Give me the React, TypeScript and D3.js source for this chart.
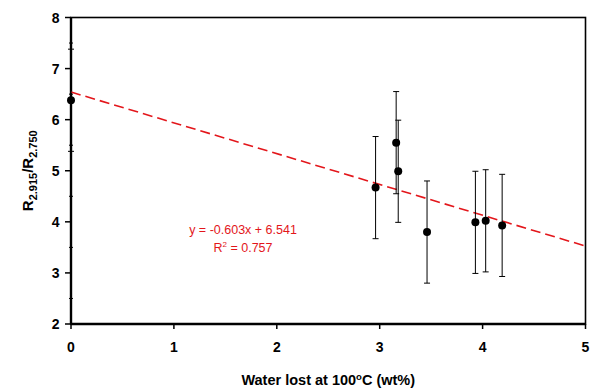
import { useEffect, useRef } from "react"
import * as d3 from "d3"

// water lost (wt%) vs R2.915/R2.750
const waterLost = [0, 2.96, 3.16, 3.18, 3.46, 3.93, 4.03, 4.19]
const ratio = [6.38, 4.67, 5.55, 4.99, 3.8, 3.99, 4.02, 3.93]
const errors = [1.0, 1.0, 1.0, 1.0, 1.0, 1.0, 1.0, 1.0]

const xTicks = [0, 1, 2, 3, 4, 5]
const yTicks = [2, 3, 4, 5, 6, 7, 8]
const yMinorTicks = [2.5, 3.5, 4.5, 5.5, 6.5, 7.5]

const slope = -0.603
const intercept = 6.541
const equationText = "y = -0.603x + 6.541"
const rSquared = "0.757"

const App = () => {
  const svgRef = useRef<SVGSVGElement>(null)

  useEffect(() => {
    const svg = d3.select(svgRef.current)
    svg.selectAll("*").remove()

    const width = 592
    const height = 389
    const left = 71
    const right = 585.5
    const top = 17.5
    const bottom = 324

    svg.attr("width", width).attr("height", height)

    const x = d3.scaleLinear().domain([0, 5]).range([left, right])
    const y = d3.scaleLinear().domain([2, 8]).range([bottom, top])

    const font = "Arial, 'Liberation Sans', sans-serif"
    const g = svg.append("g")

    // frame
    g.append("rect")
      .attr("x", left)
      .attr("y", top)
      .attr("width", right - left)
      .attr("height", bottom - top)
      .attr("fill", "none")
      .attr("stroke", "#000")
      .attr("stroke-width", 1.6)
    g.append("line")
      .attr("x1", left).attr("x2", left)
      .attr("y1", top).attr("y2", bottom)
      .attr("stroke", "#000").attr("stroke-width", 2.4)
    g.append("line")
      .attr("x1", left).attr("x2", right)
      .attr("y1", bottom).attr("y2", bottom)
      .attr("stroke", "#000").attr("stroke-width", 2.4)

    // y ticks
    yTicks.forEach((t) => {
      g.append("line")
        .attr("x1", left - 6)
        .attr("x2", left)
        .attr("y1", y(t))
        .attr("y2", y(t))
        .attr("stroke", "#000")
        .attr("stroke-width", 1.5)
      g.append("text")
        .attr("x", left - 11.5)
        .attr("y", y(t))
        .attr("dy", "0.36em")
        .attr("text-anchor", "end")
        .style("font-family", font)
        .style("font-size", "14px")
        .style("font-weight", "bold")
        .text(t)
    })
    yMinorTicks.forEach((t) => {
      g.append("line")
        .attr("x1", left - 2)
        .attr("x2", left + 2)
        .attr("y1", y(t))
        .attr("y2", y(t))
        .attr("stroke", "#000")
        .attr("stroke-width", 1)
    })

    // x ticks
    xTicks.forEach((t) => {
      g.append("line")
        .attr("x1", x(t))
        .attr("x2", x(t))
        .attr("y1", bottom)
        .attr("y2", bottom + 5)
        .attr("stroke", "#000")
        .attr("stroke-width", 1.5)
      g.append("text")
        .attr("x", x(t))
        .attr("y", bottom + 27.5)
        .attr("text-anchor", "middle")
        .style("font-family", font)
        .style("font-size", "14px")
        .style("font-weight", "bold")
        .text(t)
    })

    // trend line
    g.append("line")
      .attr("x1", x(0))
      .attr("y1", y(intercept))
      .attr("x2", x(5))
      .attr("y2", y(slope * 5 + intercept))
      .attr("stroke", "#e3161b")
      .attr("stroke-width", 1.6)
      .attr("stroke-dasharray", "10,5")

    // error bars
    const pts = waterLost.map((w, i) => ({ x: w, y: ratio[i], e: errors[i] }))
    const eb = g.selectAll(".err").data(pts).enter().append("g")
    eb.append("line")
      .attr("x1", (d) => x(d.x))
      .attr("x2", (d) => x(d.x))
      .attr("y1", (d) => y(d.y + d.e))
      .attr("y2", (d) => y(d.y - d.e))
      .attr("stroke", "#000")
      .attr("stroke-width", 1)
    ;[1, -1].forEach((s) => {
      eb.append("line")
        .attr("x1", (d) => x(d.x) - 3)
        .attr("x2", (d) => x(d.x) + 3)
        .attr("y1", (d) => y(d.y + s * d.e))
        .attr("y2", (d) => y(d.y + s * d.e))
        .attr("stroke", "#000")
        .attr("stroke-width", 1)
    })

    // points
    g.selectAll(".pt")
      .data(pts)
      .enter()
      .append("circle")
      .attr("cx", (d) => x(d.x))
      .attr("cy", (d) => y(d.y))
      .attr("r", 4)
      .attr("fill", "#000")

    // equation
    g.append("text")
      .attr("x", 243)
      .attr("y", 234)
      .attr("text-anchor", "middle")
      .style("font-family", font)
      .style("font-size", "12.5px")
      .style("fill", "#e3161b")
      .text(equationText)
    const r2 = g.append("text")
      .attr("x", 243)
      .attr("y", 252)
      .attr("text-anchor", "middle")
      .style("font-family", font)
      .style("font-size", "12.5px")
      .style("fill", "#e3161b")
    r2.append("tspan").text("R")
    r2.append("tspan").attr("dy", -5).style("font-size", "8px").text("2")
    r2.append("tspan").attr("dy", 5).text(" = " + rSquared)

    // x label
    const xl = g.append("text")
      .attr("x", (left + right) / 2)
      .attr("y", 385)
      .attr("text-anchor", "middle")
      .style("font-family", font)
      .style("font-size", "14.5px")
      .style("font-weight", "bold")
    xl.append("tspan").text("Water lost at 100")
    xl.append("tspan").attr("dy", -5).style("font-size", "9.5px").text("o")
    xl.append("tspan").attr("dy", 5).text("C (wt%)")

    // y label
    const yl = g.append("text")
      .attr("transform", `translate(33, ${(top + bottom) / 2}) rotate(-90)`)
      .attr("text-anchor", "middle")
      .style("font-family", font)
      .style("font-size", "15px")
      .style("font-weight", "bold")
    yl.append("tspan").text("R")
    yl.append("tspan").attr("dy", 4).style("font-size", "11px").text("2.915")
    yl.append("tspan").attr("dy", -4).text("/R")
    yl.append("tspan").attr("dy", 4).style("font-size", "11px").text("2.750")
  }, [])

  return <svg ref={svgRef} style={{ position: "absolute", left: 0, top: 0 }}></svg>
}

export default App
